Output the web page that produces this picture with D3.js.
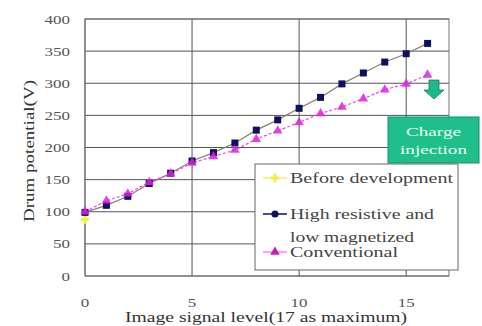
<!DOCTYPE html>
<html>
<head>
<style>
  body { margin: 0; background: #fff; }
  text { font-family: "Liberation Serif", "DejaVu Serif", serif; }
  .grid line { stroke: #555; stroke-width: 1; }
</style>
<script src="https://cdn.jsdelivr.net/npm/d3@7"></script>
</head>
<body>
<svg width="482" height="326"></svg>
<script>
// data
var levels = [0, 1, 2, 3, 4, 5, 6, 7, 8, 9, 10, 11, 12, 13, 14, 15, 16];
var highResistive = [99, 110, 124, 144, 160, 179, 192, 207, 227, 243, 261, 278, 299, 316, 333, 346, 362];
var conventional = [100, 117, 128, 146, 159, 176, 186, 196, 213, 226, 239, 253, 263, 276, 290, 299, 313];
var beforeDev = [{ level: 0, v: 88 }];
var yTicks = [0, 50, 100, 150, 200, 250, 300, 350, 400];
var xTicks = [0, 5, 10, 15];

var svg = d3.select("svg"),
  margin = { top: 19, right: 33, bottom: 50, left: 85 },
  width = +svg.attr("width") - margin.left - margin.right,
  height = +svg.attr("height") - margin.top - margin.bottom;

var x = d3.scaleLinear().domain([0, 17]).range([0, width]),
  y = d3.scaleLinear().domain([0, 400]).range([height, 0]);

// the picture's lettering is wide, so stretch each text to a target width
function stretch(sel, w) {
  sel.attr("textLength", w).attr("lengthAdjust", "spacingAndGlyphs");
}

var g = svg.append("g")
  .attr("transform", "translate(" + margin.left + "," + margin.top + ")");

// grid
var grid = g.append("g").attr("class", "grid");
grid.selectAll(".hy").data(yTicks).enter().append("line")
  .attr("x1", 0).attr("x2", width)
  .attr("y1", function(d) { return y(d); })
  .attr("y2", function(d) { return y(d); });
grid.selectAll(".vx").data(xTicks).enter().append("line")
  .attr("y1", 0).attr("y2", height)
  .attr("x1", function(d) { return x(d); })
  .attr("x2", function(d) { return x(d); });
g.append("rect").attr("width", width).attr("height", height)
  .attr("fill", "none").attr("stroke", "#777");

// tick labels
g.selectAll(".ylab").data(yTicks).enter().append("text")
  .attr("x", -15).attr("y", function(d) { return y(d); })
  .attr("dy", "0.35em").attr("text-anchor", "end")
  .attr("font-size", 13).attr("fill", "#555")
  .each(function(d) { stretch(d3.select(this), String(d).length * 8.5); })
  .text(function(d) { return d; });
g.selectAll(".xlab").data(xTicks).enter().append("text")
  .attr("x", function(d) { return x(d); }).attr("y", height + 31)
  .attr("text-anchor", "middle")
  .attr("font-size", 13).attr("fill", "#555")
  .each(function(d) { stretch(d3.select(this), String(d).length * 8.5); })
  .text(function(d) { return d; });

svg.append("text")
  .attr("transform", "translate(34," + (margin.top + 132) + ") rotate(-90)")
  .attr("text-anchor", "middle").attr("font-size", 14).attr("fill", "#333")
  .call(stretch, 142)
  .text("Drum potential(V)");
svg.append("text")
  .attr("x", 266).attr("y", 322)
  .attr("text-anchor", "middle").attr("font-size", 14).attr("fill", "#333")
  .call(stretch, 282)
  .text("Image signal level(17 as maximum)");

// series
var line = d3.line()
  .x(function(d) { return x(d[0]); })
  .y(function(d) { return y(d[1]); });

var navyPts = levels.map(function(l, i) { return [l, highResistive[i]]; });
var pinkPts = levels.map(function(l, i) { return [l, conventional[i]]; });

g.append("path").datum(navyPts).attr("d", line)
  .attr("fill", "none").attr("stroke", "#8a7f70").attr("stroke-width", 1.2);
g.append("path").datum(pinkPts).attr("d", line)
  .attr("fill", "none").attr("stroke", "#ee44ee").attr("stroke-width", 1.2)
  .attr("stroke-dasharray", "3,2");

g.selectAll(".yel").data(beforeDev).enter().append("path")
  .attr("d", d3.symbol().type(d3.symbolCross).size(40))
  .attr("transform", function(d) { return "translate(" + x(d.level) + "," + y(d.v) + ")"; })
  .attr("fill", "#f0f040");

g.selectAll(".navy").data(navyPts).enter().append("rect")
  .attr("x", function(d) { return x(d[0]) - 3.5; })
  .attr("y", function(d) { return y(d[1]) - 3.5; })
  .attr("width", 7).attr("height", 7)
  .attr("fill", "#101060");

var tri = d3.symbol().type(d3.symbolTriangle).size(40);
g.selectAll(".pink").data(pinkPts).enter().append("path")
  .attr("d", tri)
  .attr("transform", function(d) { return "translate(" + x(d[0]) + "," + y(d[1]) + ")"; })
  .attr("fill", "#e020e0").attr("fill-opacity", 0.85);

// charge injection arrow
var ax = x(16.3), ay = y(305);
g.append("path")
  .attr("d", "M" + (ax - 5) + "," + ay + "h10v10h5l-10,9l-10,-9h5z")
  .attr("fill", "#1fb888").attr("stroke", "#148060").attr("stroke-width", 0.8);

// charge injection box
var box = svg.append("g").attr("transform", "translate(388,117)");
box.append("rect").attr("width", 91).attr("height", 46)
  .attr("fill", "#1fbf8c").attr("stroke", "#159070");
box.append("text").attr("x", 45.5).attr("y", 19).attr("text-anchor", "middle")
  .attr("font-size", 13).attr("fill", "#e8fff4").call(stretch, 55).text("Charge");
box.append("text").attr("x", 45.5).attr("y", 37).attr("text-anchor", "middle")
  .attr("font-size", 13).attr("fill", "#e8fff4").call(stretch, 67).text("injection");

// legend
var legend = svg.append("g").attr("transform", "translate(255,164)");
legend.append("rect").attr("width", 203).attr("height", 106)
  .attr("fill", "#fff").attr("stroke", "#666");

var legendItems = [
  { lines: ["Before development"], widths: [163], y: 14, color: "#f0f040", lineColor: "#f4f070", kind: "cross" },
  { lines: ["High resistive and", "low magnetized"], widths: [144, 124], y: 50, color: "#101060", lineColor: "#101060", kind: "circle" },
  { lines: ["Conventional"], widths: [108], y: 88, color: "#c020c0", lineColor: "#ff80ff", kind: "tri" }
];
var li = legend.selectAll(".li").data(legendItems).enter().append("g")
  .attr("transform", function(d) { return "translate(0," + d.y + ")"; });
li.append("line").attr("x1", 8).attr("x2", 32).attr("y1", 0).attr("y2", 0)
  .attr("stroke", function(d) { return d.lineColor; }).attr("stroke-width", 1.5);
li.append("path")
  .attr("d", function(d) {
    var t = d.kind === "cross" ? d3.symbolCross : d.kind === "circle" ? d3.symbolCircle : d3.symbolTriangle;
    return d3.symbol().type(t).size(40)();
  })
  .attr("transform", "translate(20,0)")
  .attr("fill", function(d) { return d.color; });
li.each(function(d) {
  var row = d3.select(this);
  d.lines.forEach(function(t, i) {
    row.append("text").attr("x", 35).attr("y", i * 23).attr("dy", "0.35em")
      .attr("font-size", 14).attr("fill", "#444")
      .call(stretch, d.widths[i]).text(t);
  });
});
</script>
</body>
</html>
